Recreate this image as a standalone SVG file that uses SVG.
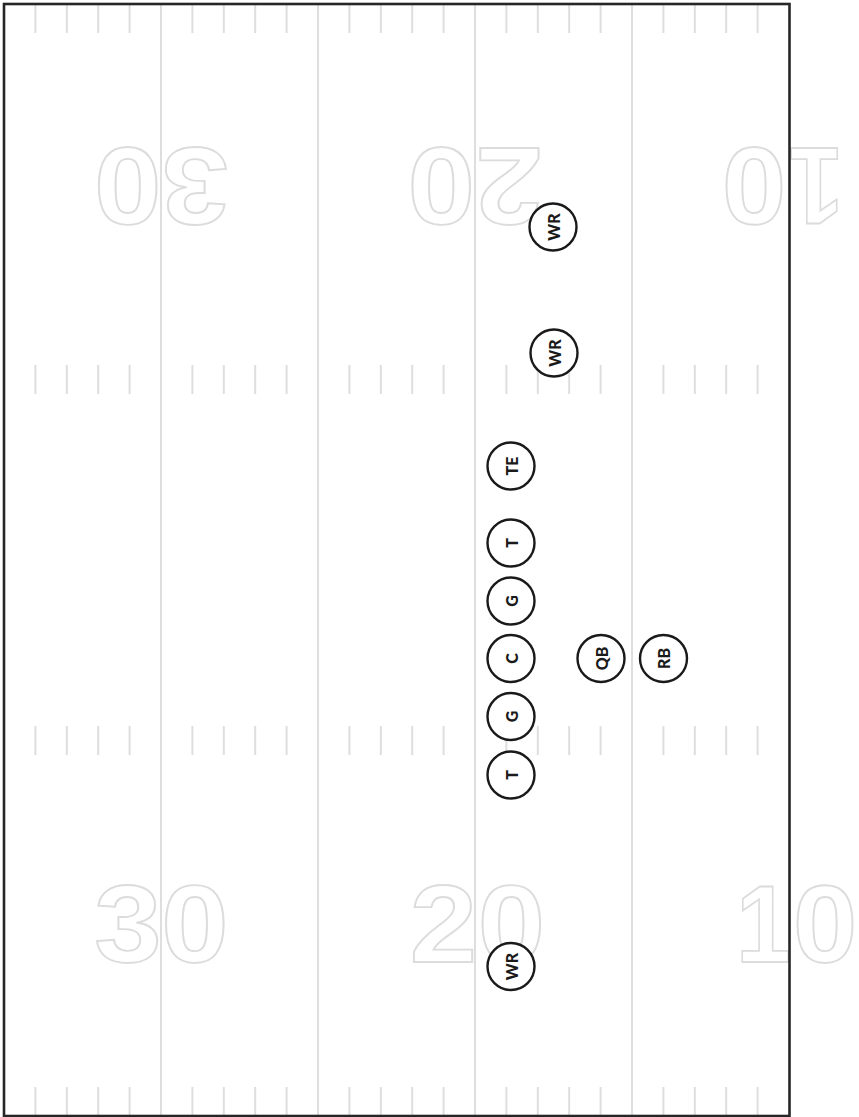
<svg xmlns="http://www.w3.org/2000/svg" width="859" height="1117" viewBox="0 0 859 1117">
<style>
.yl{stroke:#dedede;stroke-width:2;fill:none}
.hm{stroke:#dedede;stroke-width:2;fill:none}
.num{font-family:"Liberation Sans",Arial,sans-serif;font-weight:700;font-size:110px;fill:#fff;stroke:#dcdcdc;stroke-width:1.8;text-anchor:middle}
.pc{fill:#fff;stroke:#1a1a1a;stroke-width:2.4}
.pt{font-family:"Lato","Liberation Sans",sans-serif;font-weight:900;font-size:16px;fill:#1a1a1a;text-anchor:middle;dominant-baseline:central}
</style>
<defs>
<g id="hashrow">
<line x1="35.4" y1="0" x2="35.4" y2="29"/><line x1="66.8" y1="0" x2="66.8" y2="29"/><line x1="98.2" y1="0" x2="98.2" y2="29"/><line x1="129.6" y1="0" x2="129.6" y2="29"/>
<line x1="192.4" y1="0" x2="192.4" y2="29"/><line x1="223.8" y1="0" x2="223.8" y2="29"/><line x1="255.2" y1="0" x2="255.2" y2="29"/><line x1="286.6" y1="0" x2="286.6" y2="29"/>
<line x1="349.4" y1="0" x2="349.4" y2="29"/><line x1="380.8" y1="0" x2="380.8" y2="29"/><line x1="412.2" y1="0" x2="412.2" y2="29"/><line x1="443.6" y1="0" x2="443.6" y2="29"/>
<line x1="506.4" y1="0" x2="506.4" y2="29"/><line x1="537.8" y1="0" x2="537.8" y2="29"/><line x1="569.2" y1="0" x2="569.2" y2="29"/><line x1="600.6" y1="0" x2="600.6" y2="29"/>
<line x1="663.4" y1="0" x2="663.4" y2="29"/><line x1="694.8" y1="0" x2="694.8" y2="29"/><line x1="726.2" y1="0" x2="726.2" y2="29"/><line x1="757.6" y1="0" x2="757.6" y2="29"/>
</g>
</defs>
<rect x="0" y="0" width="859" height="1117" fill="#fff"/>
<g id="field">
<g class="yl">
<line x1="161" y1="4" x2="161" y2="1116"/>
<line x1="318" y1="4" x2="318" y2="1116"/>
<line x1="475" y1="4" x2="475" y2="1116"/>
<line x1="632" y1="4" x2="632" y2="1116"/>
</g>
<g class="hm">
<use href="#hashrow" transform="translate(0,4)"/>
<use href="#hashrow" transform="translate(0,365)"/>
<use href="#hashrow" transform="translate(0,726)"/>
<use href="#hashrow" transform="translate(0,1087)"/>
</g>
</g>
<g id="numbers">
<text class="num" transform="translate(127.5,148) rotate(180) scale(1.1,1)">0</text>
<text class="num" transform="translate(195,148) rotate(180) scale(1.1,1)">3</text>
<text class="num" transform="translate(441,148) rotate(180) scale(1.1,1)">0</text>
<text class="num" transform="translate(509,148) rotate(180) scale(1.1,1)">2</text>
<text class="num" transform="translate(754,148) rotate(180) scale(1.05,1)">0</text>
<text class="num" transform="translate(816,148) rotate(180) scale(0.9,1)">1</text>
<text class="num" transform="translate(128,962) scale(1.1,1)">3</text>
<text class="num" transform="translate(195,962) scale(1.1,1)">0</text>
<text class="num" transform="translate(443.5,962) scale(1.1,1)">2</text>
<text class="num" transform="translate(511.5,962) scale(1.1,1)">0</text>
<text class="num" transform="translate(763.5,962) scale(0.9,1)">1</text>
<text class="num" transform="translate(825,962) scale(1.05,1)">0</text>
</g>
<rect id="border" x="4" y="4" width="785.5" height="1112" fill="none" stroke="#262626" stroke-width="2.6"/>
<g id="connectors"/>
<g id="wr1"><circle class="pc" cx="553" cy="227" r="23.5"/><text class="pt" x="553" y="227" transform="rotate(-90 553 227)">WR</text></g>
<g id="wr2"><circle class="pc" cx="554" cy="353" r="23.5"/><text class="pt" x="554" y="353" transform="rotate(-90 554 353)">WR</text></g>
<g id="te"><circle class="pc" cx="511" cy="466" r="23.5"/><text class="pt" x="511" y="466" transform="rotate(-90 511 466)">TE</text></g>
<g id="t1"><circle class="pc" cx="511" cy="543" r="23.5"/><text class="pt" x="511" y="543" transform="rotate(-90 511 543)">T</text></g>
<g id="g1"><circle class="pc" cx="511" cy="601" r="23.5"/><text class="pt" x="511" y="601" transform="rotate(-90 511 601)">G</text></g>
<g id="c"><circle class="pc" cx="511" cy="658.5" r="23.5"/><text class="pt" x="511" y="658.5" transform="rotate(-90 511 658.5)">C</text></g>
<g id="qb"><circle class="pc" cx="601" cy="658.5" r="23.5"/><text class="pt" x="601" y="658.5" transform="rotate(-90 601 658.5)">QB</text></g>
<g id="rb"><circle class="pc" cx="663.5" cy="658.5" r="23.5"/><text class="pt" x="663.5" y="658.5" transform="rotate(-90 663.5 658.5)">RB</text></g>
<g id="g2"><circle class="pc" cx="511" cy="716.5" r="23.5"/><text class="pt" x="511" y="716.5" transform="rotate(-90 511 716.5)">G</text></g>
<g id="t2"><circle class="pc" cx="511" cy="775" r="23.5"/><text class="pt" x="511" y="775" transform="rotate(-90 511 775)">T</text></g>
<g id="wr3"><circle class="pc" cx="511" cy="966.5" r="23.5"/><text class="pt" x="511" y="966.5" transform="rotate(-90 511 966.5)">WR</text></g>
</svg>
